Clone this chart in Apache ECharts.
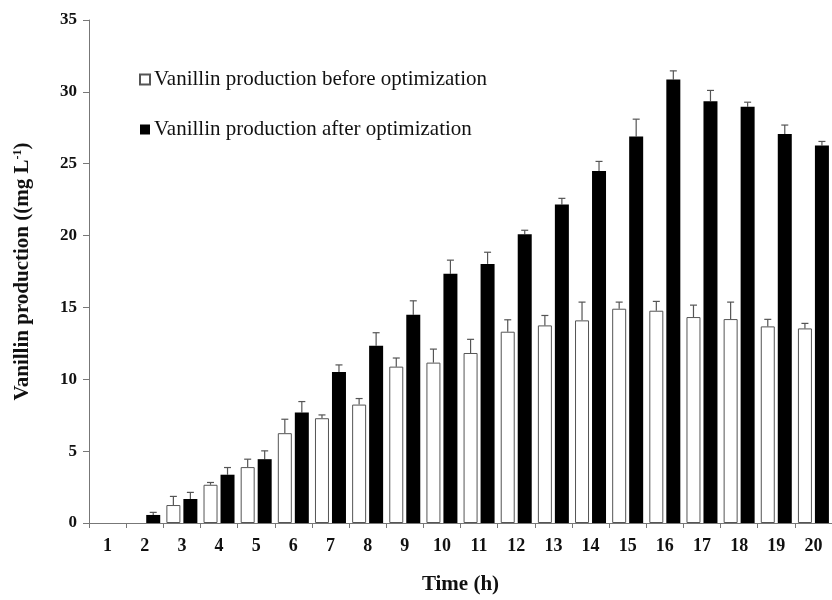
<!DOCTYPE html>
<html>
<head>
<meta charset="utf-8">
<script src="https://cdn.jsdelivr.net/npm/echarts@6/dist/echarts.min.js"></script>
<style>
  html, body { margin: 0; padding: 0; background: #fff; }
  #chart { width: 832px; height: 600px; }
</style>
</head>
<body>
<div id="chart"></div>
<script>
// Time points (h)
var hours = ['1','2','3','4','5','6','7','8','9','10','11','12','13','14','15','16','17','18','19','20'];
// Vanillin production (mg L-1) before optimization, with standard deviation
var beforeOpt = [0, 0, 1.25, 2.66, 3.89, 6.25, 7.29, 8.24, 10.88, 11.16, 11.83, 13.31, 13.75, 14.1, 14.91, 14.77, 14.33, 14.19, 13.68, 13.54];
var beforeErr = [0, 0, 0.6, 0.16, 0.55, 0.97, 0.23, 0.42, 0.6, 0.94, 0.95, 0.83, 0.69, 1.27, 0.46, 0.65, 0.83, 1.18, 0.49, 0.35];
// Vanillin production (mg L-1) after optimization, with standard deviation
var afterOpt = [0, 0.56, 1.67, 3.36, 4.44, 7.69, 10.51, 12.34, 14.49, 17.34, 18.03, 20.09, 22.17, 24.49, 26.9, 30.86, 29.35, 28.96, 27.06, 26.27];
var afterErr = [0, 0.18, 0.46, 0.5, 0.58, 0.76, 0.49, 0.9, 0.97, 0.95, 0.81, 0.28, 0.42, 0.67, 1.2, 0.6, 0.75, 0.32, 0.63, 0.28];
// Y axis ticks
var yTicks = { min: 0, max: 35, interval: 5 };

var BAR_W = 14;
var BAR_GAP = 3;
var SERIF = '"Liberation Serif", "Times New Roman", serif';

// Bars with a zero value leave no outline on the axis
function barData(vals) {
  return vals.map(function (v) {
    return v > 0 ? v : { value: v, itemStyle: { borderWidth: 0, opacity: 0 } };
  });
}

// Upper error whisker with a small cap, shifted to sit on its bar
function errorSeries(vals, errs, side) {
  var data = vals.map(function (v, i) { return [i, v, v + errs[i]]; });
  return {
    type: 'custom',
    silent: true,
    z: 1,
    data: data,
    renderItem: function (params, api) {
      var i = api.value(0);
      if (api.value(2) - api.value(1) <= 0) return null;
      var lo = api.coord([i, api.value(1)]);
      var hi = api.coord([i, api.value(2)]);
      var dx = side * (BAR_W + BAR_GAP) / 2;
      var x = lo[0] + dx;
      var cap = 3.5;
      var st = { stroke: '#555', lineWidth: 1.2 };
      return {
        type: 'group',
        children: [
          { type: 'line', shape: { x1: x, y1: lo[1], x2: x, y2: hi[1] }, style: st },
          { type: 'line', shape: { x1: x - cap, y1: hi[1], x2: x + cap, y2: hi[1] }, style: st }
        ]
      };
    }
  };
}

var chart = echarts.init(document.getElementById('chart'));
chart.setOption({
  animation: false,
  backgroundColor: '#fff',
  grid: { left: 89, right: -11, top: 20, bottom: 76, containLabel: false },
  legend: {
    data: ['Vanillin production before optimization', 'Vanillin production after optimization'],
    orient: 'vertical',
    left: 134,
    top: 64,
    itemWidth: 10,
    itemHeight: 10,
    itemGap: 29,
    icon: 'rect',
    textStyle: { fontFamily: SERIF, fontSize: 21, color: '#111', padding: [0, 0, 0, -1] }
  },
  xAxis: {
    type: 'category',
    data: hours,
    name: 'Time (h)',
    nameLocation: 'middle',
    nameGap: 51,
    nameTextStyle: { fontFamily: SERIF, fontSize: 21, fontWeight: 'bold', color: '#111' },
    axisLine: { lineStyle: { color: '#777', width: 1 } },
    axisTick: { show: true, length: 5, lineStyle: { color: '#777' } },
    axisLabel: { fontFamily: SERIF, fontSize: 18, fontWeight: 'bold', color: '#111', margin: 14, interval: 0 }
  },
  yAxis: {
    type: 'value',
    min: yTicks.min,
    max: yTicks.max,
    interval: yTicks.interval,
    name: '{n|Vanillin production ((mg L}{s|-1}{n|)}',
    nameLocation: 'middle',
    nameGap: 56,
    nameTextStyle: {
      rich: {
        n: { fontFamily: SERIF, fontSize: 21, fontWeight: 'bold', color: '#111' },
        s: { fontFamily: SERIF, fontSize: 12, fontWeight: 'bold', color: '#111', verticalAlign: 'top', padding: [0, 0, 9, 0] }
      }
    },
    splitLine: { show: false },
    axisLine: { show: true, lineStyle: { color: '#777', width: 1 } },
    axisTick: { show: true, length: 6, lineStyle: { color: '#777' } },
    axisLabel: { fontFamily: SERIF, fontSize: 17, fontWeight: 'bold', color: '#111', margin: 12 }
  },
  series: [
    {
      name: 'Vanillin production before optimization',
      type: 'bar',
      data: barData(beforeOpt),
      barWidth: BAR_W,
      barGap: (BAR_GAP / BAR_W * 100) + '%',
      z: 2,
      itemStyle: { color: '#fff', borderColor: '#555', borderWidth: 1 }
    },
    {
      name: 'Vanillin production after optimization',
      type: 'bar',
      data: barData(afterOpt),
      barWidth: BAR_W,
      z: 2,
      itemStyle: { color: '#000', borderColor: '#000', borderWidth: 0 }
    },
    errorSeries(beforeOpt, beforeErr, -1),
    errorSeries(afterOpt, afterErr, 1)
  ]
});
</script>
</body>
</html>
